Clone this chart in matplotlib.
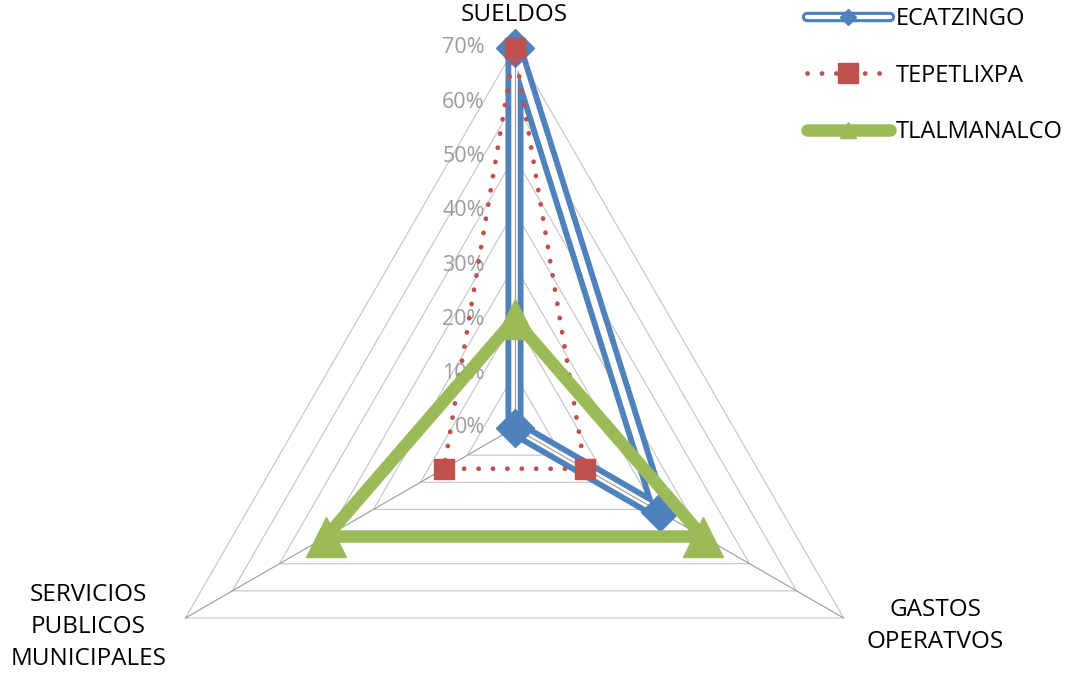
import numpy as np
import matplotlib
matplotlib.use("Agg")
import matplotlib.pyplot as plt
import matplotlib.patheffects as pe
from matplotlib.lines import Line2D
from matplotlib.legend_handler import HandlerTuple

# datos del grafico (proporciones)
categorias = ['SUELDOS', 'GASTOS\nOPERATVOS', 'SERVICIOS\nPUBLICOS\nMUNICIPALES']
ecatzingo = [0.70, 0.31, 0.00]
tepetlixpa = [0.70, 0.15, 0.15]
tlalmanalco = [0.20, 0.40, 0.40]
niveles = [0.0, 0.1, 0.2, 0.3, 0.4, 0.5, 0.6, 0.7]
etiquetas_nivel = ['0%', '10%', '20%', '30%', '40%', '50%', '60%', '70%']

azul = '#4F81BD'
rojo = '#C0504D'
verde = '#9BBB59'

plt.rcParams['font.family'] = ['Open Sans', 'DejaVu Sans']

fig = plt.figure(figsize=(10.86, 6.77), dpi=100)
ax = fig.add_axes([0.12385, -0.19350, 0.69982, 1.12260], projection='polar')
ax.set_theta_offset(np.pi / 2)
ax.set_theta_direction(-1)
ax.set_ylim(0, 0.7)
ax.grid(False)
ax.set_xticks([])
ax.set_yticks([])
ax.spines['polar'].set_visible(False)
ax.patch.set_visible(False)

angulos = np.linspace(0, 2 * np.pi, len(categorias), endpoint=False)
cerrado = np.append(angulos, angulos[0])

def cerrar(v):
    return np.append(v, v[0])

# rejilla triangular
for r in niveles[1:]:
    ax.plot(cerrado, [r] * len(cerrado), color='#C4C4C4', lw=0.8, zorder=1, clip_on=False)

# ECATZINGO: linea doble
ax.plot(cerrado, cerrar(ecatzingo), color=azul, lw=13, zorder=2, clip_on=False)
ax.plot(cerrado, cerrar(ecatzingo), color='white', lw=4.6, zorder=2.1, clip_on=False)

# radios
for a in angulos:
    ax.plot([a, a], [0, 0.7], color='#9A9A9A', lw=0.8, zorder=2.2, clip_on=False)

ax.plot(angulos, ecatzingo, ls='none', marker='D', ms=19, color=azul, zorder=2.3, clip_on=False)

# TEPETLIXPA
punteado = (0, (0.05, 3.0))
ax.plot(cerrado, cerrar(tepetlixpa), color=rojo, lw=3.4, ls=punteado,
        dash_capstyle='round', zorder=3, clip_on=False)
ax.plot(angulos, tepetlixpa, ls='none', marker='s', ms=15, color=rojo, zorder=3.1, clip_on=False)

# TLALMANALCO
ax.plot(cerrado, cerrar(tlalmanalco), color=verde, lw=9, zorder=4, clip_on=False)
ax.plot(angulos, tlalmanalco, ls='none', marker='^', ms=29, color=verde, zorder=4.1, clip_on=False)

# etiquetas de escala
for r, t in zip(niveles, etiquetas_nivel):
    ax.annotate(t, xy=(0, r), xytext=(-21.5, 0), textcoords='offset points',
                ha='right', va='center', fontsize=15.5, color='#9C9C9C', zorder=1.5)

# etiquetas de categorias
desplaz = [(0, 24), (66, -6), (-70, -6.5)]
for a, c, d in zip(angulos, categorias, desplaz):
    ax.annotate(c, xy=(a, 0.7), xytext=d, textcoords='offset points',
                ha='center', va='center', fontsize=17.5, color='#000000',
                linespacing=1.45, annotation_clip=False)

# leyenda
h1 = (Line2D([], [], color=azul, lw=7.5, solid_capstyle='round',
             path_effects=[pe.Stroke(linewidth=7.5, foreground=azul, capstyle='round'),
                           pe.Stroke(linewidth=3, foreground='white', capstyle='round')]),
      Line2D([], [], ls='none', marker='D', ms=8, color=azul))
h2 = (Line2D([], [], color=rojo, lw=3.4, ls=punteado, dash_capstyle='round'),
      Line2D([], [], ls='none', marker='s', ms=14, color=rojo))
h3 = (Line2D([], [], color=verde, lw=9, solid_capstyle='round'),
      Line2D([], [], ls='none', marker='^', ms=12, color=verde))
fig.legend([h1, h2, h3], ['ECATZINGO', 'TEPETLIXPA', 'TLALMANALCO'],
           handler_map={tuple: HandlerTuple(ndivide=1)},
           loc='upper left', bbox_to_anchor=(807 / 1086, 1 - 7 / 677),
           frameon=False, borderpad=0, borderaxespad=0, fontsize=17,
           handlelength=3.5, handletextpad=0.25, labelspacing=1.38)

fig.savefig('out.png', dpi=100)
